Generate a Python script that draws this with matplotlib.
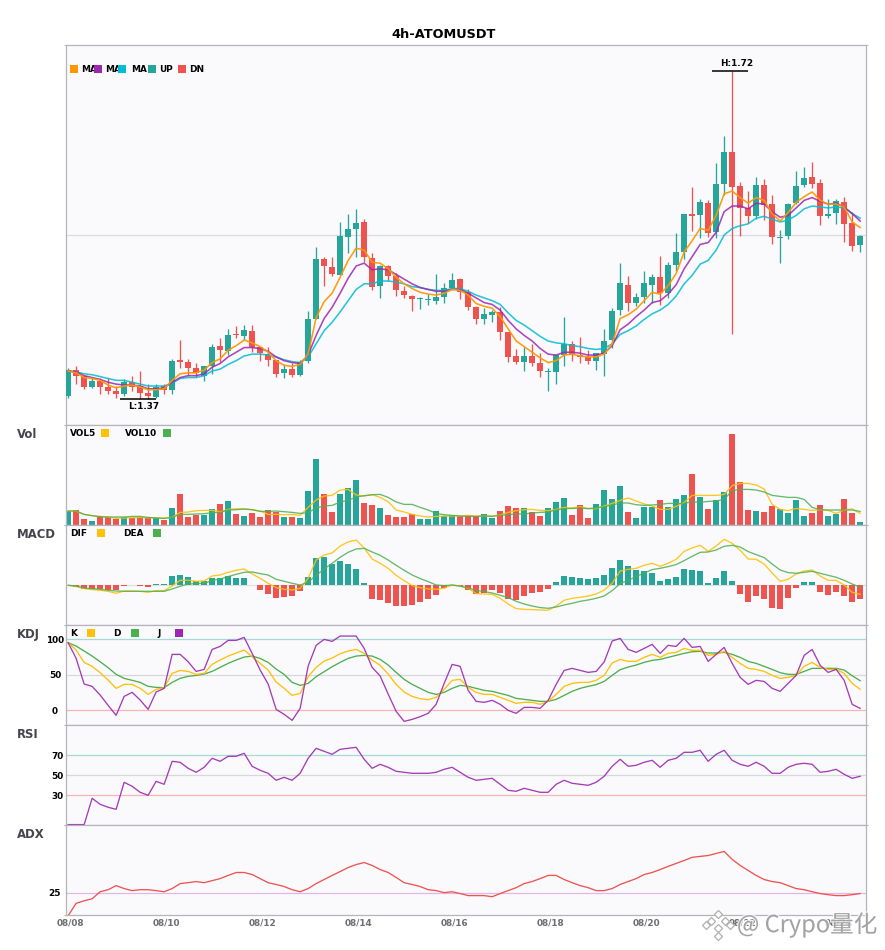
import numpy as np
import matplotlib
matplotlib.use('Agg')
from matplotlib import pyplot as plt
from matplotlib.patches import Rectangle
from matplotlib.lines import Line2D
import matplotlib.patheffects as pe

# 4h candles
open_ = [1.373,1.401,1.395,1.383,1.389,1.383,1.379,1.375,1.388,1.384,1.376,1.372,1.384,1.380,1.412,1.410,1.403,1.395,1.405,1.427,
         1.421,1.439,1.437,1.443,1.426,1.418,1.412,1.398,1.402,1.396,1.411,1.455,1.519,1.511,1.502,1.543,1.552,1.559,1.521,1.491,
         1.512,1.501,1.485,1.480,1.477,1.476,1.475,1.479,1.489,1.498,1.484,1.468,1.455,1.460,1.463,1.442,1.416,1.410,1.416,1.408,
         1.399,1.399,1.417,1.429,1.417,1.415,1.411,1.418,1.433,1.465,1.492,1.473,1.479,1.492,1.500,1.483,1.513,1.527,1.568,1.566,
         1.579,1.548,1.600,1.634,1.597,1.574,1.565,1.598,1.578,1.542,1.544,1.579,1.598,1.607,1.601,1.565,1.569,1.580,1.558,1.534]
close = [1.401,1.395,1.383,1.389,1.383,1.379,1.375,1.388,1.383,1.377,1.373,1.383,1.380,1.411,1.410,1.403,1.398,1.405,1.426,1.422,
         1.438,1.438,1.444,1.426,1.419,1.412,1.397,1.402,1.396,1.410,1.456,1.519,1.512,1.503,1.544,1.551,1.558,1.522,1.490,1.512,
         1.501,1.486,1.481,1.477,1.478,1.477,1.479,1.489,1.497,1.484,1.468,1.456,1.461,1.463,1.442,1.415,1.410,1.416,1.409,1.400,
         1.400,1.417,1.429,1.417,1.415,1.411,1.419,1.432,1.464,1.494,1.473,1.479,1.494,1.500,1.483,1.513,1.527,1.567,1.565,1.580,
         1.547,1.600,1.634,1.596,1.574,1.565,1.598,1.577,1.543,1.543,1.578,1.597,1.606,1.600,1.565,1.568,1.581,1.557,1.533,1.544]
high = [1.403,1.405,1.395,1.394,1.392,1.393,1.384,1.391,1.395,1.400,1.386,1.386,1.386,1.413,1.433,1.413,1.408,1.405,1.429,1.435,
        1.445,1.448,1.449,1.449,1.427,1.426,1.412,1.407,1.408,1.412,1.464,1.532,1.522,1.522,1.559,1.568,1.573,1.562,1.526,1.513,
        1.513,1.505,1.491,1.481,1.479,1.482,1.503,1.494,1.505,1.499,1.488,1.469,1.467,1.465,1.468,1.442,1.423,1.426,1.429,1.419,
        1.403,1.417,1.458,1.432,1.436,1.422,1.419,1.445,1.467,1.515,1.501,1.483,1.507,1.503,1.523,1.516,1.547,1.568,1.596,1.584,
        1.582,1.622,1.651,1.720,1.602,1.592,1.607,1.605,1.588,1.550,1.579,1.613,1.618,1.623,1.605,1.583,1.584,1.586,1.570,1.545]
low = [1.371,1.386,1.381,1.382,1.375,1.375,1.371,1.373,1.379,1.370,1.370,1.371,1.375,1.375,1.403,1.395,1.394,1.389,1.397,1.410,
       1.417,1.435,1.433,1.420,1.411,1.405,1.394,1.393,1.394,1.395,1.408,1.455,1.491,1.501,1.502,1.526,1.522,1.516,1.486,1.478,
       1.496,1.480,1.478,1.464,1.466,1.470,1.471,1.473,1.488,1.477,1.465,1.450,1.450,1.452,1.433,1.410,1.407,1.400,1.405,1.394,
       1.379,1.386,1.405,1.411,1.409,1.407,1.401,1.395,1.424,1.460,1.464,1.469,1.473,1.473,1.470,1.478,1.507,1.520,1.549,1.542,
       1.543,1.542,1.588,1.439,1.544,1.558,1.562,1.561,1.535,1.515,1.541,1.578,1.596,1.595,1.556,1.563,1.557,1.538,1.528,1.527]

ma_fast = [1.400,1.398,1.393,1.392,1.390,1.385,1.382,1.384,1.385,1.383,1.380,1.380,1.381,1.390,1.397,1.398,1.398,1.401,1.409,1.413,
           1.422,1.427,1.433,1.430,1.426,1.420,1.411,1.406,1.405,1.407,1.418,1.457,1.474,1.483,1.500,1.518,1.531,1.529,1.516,1.515,
           1.509,1.500,1.493,1.488,1.484,1.482,1.481,1.483,1.487,1.486,1.481,1.472,1.469,1.467,1.458,1.445,1.432,1.426,1.420,1.414,
           1.409,1.411,1.417,1.418,1.416,1.415,1.415,1.418,1.429,1.456,1.460,1.466,1.475,1.484,1.482,1.491,1.504,1.527,1.539,1.552,
           1.550,1.566,1.589,1.592,1.585,1.579,1.585,1.582,1.568,1.560,1.569,1.580,1.586,1.591,1.582,1.578,1.578,1.575,1.559,1.553]
ma_mid = [1.400,1.399,1.395,1.393,1.391,1.388,1.386,1.385,1.385,1.384,1.381,1.381,1.382,1.388,1.393,1.395,1.395,1.397,1.404,1.408,
          1.415,1.420,1.425,1.425,1.424,1.421,1.415,1.411,1.409,1.408,1.417,1.438,1.456,1.468,1.483,1.499,1.512,1.515,1.508,1.509,
          1.508,1.503,1.498,1.493,1.489,1.487,1.485,1.485,1.487,1.487,1.483,1.478,1.473,1.471,1.465,1.454,1.445,1.438,1.432,1.424,
          1.418,1.417,1.420,1.420,1.419,1.417,1.417,1.419,1.427,1.444,1.450,1.458,1.465,1.473,1.475,1.482,1.492,1.509,1.522,1.535,
          1.537,1.548,1.570,1.576,1.576,1.573,1.579,1.578,1.570,1.564,1.566,1.574,1.582,1.585,1.581,1.578,1.579,1.575,1.568,1.560]
ma_slow = [1.400,1.399,1.397,1.396,1.394,1.392,1.390,1.390,1.388,1.386,1.384,1.384,1.384,1.387,1.392,1.393,1.393,1.395,1.400,1.402,
           1.407,1.411,1.416,1.418,1.418,1.417,1.415,1.412,1.410,1.409,1.415,1.429,1.443,1.452,1.463,1.475,1.487,1.493,1.493,1.496,
           1.496,1.495,1.493,1.490,1.489,1.487,1.486,1.486,1.488,1.488,1.485,1.481,1.478,1.475,1.471,1.462,1.454,1.449,1.443,1.437,
           1.432,1.430,1.429,1.427,1.426,1.424,1.423,1.424,1.429,1.439,1.443,1.448,1.455,1.461,1.465,1.471,1.480,1.493,1.502,1.514,
           1.518,1.529,1.545,1.552,1.555,1.557,1.563,1.565,1.562,1.559,1.561,1.566,1.573,1.576,1.575,1.574,1.575,1.574,1.568,1.563]

volume = [13.7,14.7,5.7,3.7,7.7,7.7,5.7,7.7,6.7,7.7,6.7,6.7,4.7,16.7,30.7,7.7,9.7,9.7,15.7,20.7,
          23.7,10.7,8.7,11.7,7.7,14.7,12.7,7.7,7.7,6.7,33.7,65.7,30.7,12.7,30.7,36.7,44.7,21.7,19.7,16.7,
          9.7,7.7,7.7,10.7,5.7,5.7,13.7,8.7,9.7,8.7,9.7,8.7,10.7,6.7,13.7,18.7,16.7,16.7,12.7,8.7,
          16.7,22.7,26.7,9.7,19.7,6.7,20.7,34.7,25.7,38.7,12.7,6.7,17.7,17.7,24.7,17.7,25.7,29.7,50.7,27.7,
          15.7,24.7,32.7,90.7,42.7,14.7,13.7,12.7,18.7,15.7,11.7,24.7,8.7,11.7,19.7,8.7,10.7,25.7,11.7,2.7]
vol5 = [13.7,13.7,10.3,9,8.3,7.7,6.3,6.7,7,7.3,7,7,6.7,7.3,12.3,12.7,14,14.3,14.3,13,
        15.3,16,15.7,15,13.7,10.3,10.3,10,10.3,9.3,17.3,24.7,28.7,29.3,34.7,35.3,29.7,28.7,30,27.3,
        23,14.7,12.7,10.3,8.7,7.7,8.3,8.7,8.7,8.7,9.3,8.7,8.7,8.7,9.7,12.3,14,15,15.3,14.3,
        14,15.3,17.3,16.7,18,16.3,16,18.7,21.3,24.3,26.7,23.7,20.7,18.7,15.3,15.3,18.3,22.3,29.3,29.3,
        29.3,29.3,30.3,39,41.3,41.3,39.7,35.7,20.3,15.3,14,16.3,15.3,14.3,15,14.3,11.3,14.7,15.7,11.3]
vol10 = [13.7,13.7,10.3,9,8,7.7,7.7,7.7,8.3,8.3,7.3,6.7,6.3,7.3,10.3,10.3,10.7,11,12,12.3,
         14.7,15,15.7,15,13.3,13.3,13.7,13,12.3,11.3,12,16.7,18.7,19.3,22.7,24.3,27.7,29,30,30.3,
         27.3,22.7,20.3,20.3,17.3,14.7,11.3,10,9.3,8.7,8.3,8.3,8.7,8.3,9.3,10,10.7,10.7,11.7,12.3,
         12.7,14.7,16,16.3,16.7,16,16.7,18,19.7,21.7,21.7,20,19.3,19.7,20.3,21.3,21.3,21.3,23,22.3,
         23.3,23.7,25.3,34,35.3,35.3,34.7,32.7,29.3,28.3,27.3,27.3,25.3,17.3,15,14.7,14.7,14.7,14.7,13.3]

# macd values in units of 0.001
macd_hist = [0,-2,-4,-3.7,-4,-5,-5,-0.7,0,-1,-1.7,1.3,1.3,9.3,10.3,8.3,4.3,4.3,7.3,7.3,
             9.3,7.3,7.3,0,-4.7,-8.7,-12.7,-11.7,-10.7,-5.7,8.3,27.3,28.3,21.3,24.3,21.3,16.3,2.3,-13.7,-14.7,
             -17.7,-20.7,-20.7,-19.7,-16.7,-13.7,-9.7,-2.7,0.3,-1,-4.7,-8.7,-7.7,-4.7,-7.7,-13.7,-14.7,-10.7,-7.7,-6.7,
             -3.7,3.3,9.3,8.3,7.3,6.3,7.3,10.3,17.3,25.3,19.3,15.3,14.3,12.3,4.3,6.3,8.3,16.3,15.3,14.3,
             2.3,7.3,14.3,4.3,-8.7,-16.7,-10.7,-13.7,-22.7,-23.7,-12.7,-2.7,3.3,3.3,-6.7,-9.7,-6.7,-10.7,-16.7,-13.7]
dif = [0,-1.3,-3.3,-4.3,-5,-6,-8,-5.7,-5.7,-6,-7,-5.3,-5.3,-0.7,5,5,4,4.3,9.3,10.3,
       13,15,16.3,11.3,7,2,-2.3,-4,-4.7,-3,7,25.3,30.3,32.3,39.3,43.3,45.3,37.3,26.3,22,
       17,10,4.7,-0.3,-2.3,-3.7,-4,-3,0.3,-0.7,-3,-8.3,-8.7,-9,-13,-18.7,-23.3,-24,-24.3,-24.7,
       -25,-20.7,-15,-13,-12,-10.7,-8.7,-4.7,2,14.3,16,17,20,22,19,22,26,34,37.3,40,
       34,39.3,46,42,35,26.3,26,21.3,12.3,4,6,11.3,14.3,15.3,9.3,5,5,0.3,-7,-9]
dea = [0,-0.7,-2.7,-3.3,-4,-5,-5.7,-6,-6,-6,-6,-6,-6,-3.7,-1,1.3,1.7,2,4.7,6.3,
       8.7,11,13,13.3,11.7,10.3,6,4,2,0.3,3,10,16.3,22,28,33,36.3,37,33.3,30,
       25.3,20,15,10.3,6.7,3.7,0.3,-0.3,0.3,-1,-2.7,-5,-6.3,-7.7,-10,-12.3,-16,-18.7,-20.7,-22.3,
       -23,-21.7,-19.7,-18,-16,-14.7,-13,-10.7,-5.3,1.7,5,8.7,12.3,15.7,17,18.7,20.7,24.7,29,33,
       33.3,35.3,39,40,38.3,33.7,30.7,27.7,21.3,15.3,12.7,12,13,14,12,10,8,5,1.3,-2]

k = [95.3,85,67.6,62,53.1,42.7,31,36.6,36.6,31,22.5,29.6,31.9,52.1,56.3,54.9,50.7,52.1,64.8,70.9,
     76.5,80.8,85,75.6,66.2,56.8,39.9,31,21.1,23.9,47.4,60.6,69.5,73.7,79.8,83.6,85.9,80.3,70.9,63.4,
     51.2,36.6,25.8,19.7,16.4,15,18.3,29.6,42.3,43.7,32.4,25.4,22.5,22.5,18.3,14.1,9.9,11.3,11.3,8.5,
     12.7,22.5,33.8,38,39.4,39.4,42.3,49.3,66.7,71.8,69,69,74.7,78.9,74.7,80.3,81.7,87.3,84.5,84.5,
     77.5,78.9,83.1,74.7,66.2,59.2,57.7,54.9,49.3,45.1,46.5,49.3,62,67.6,60.6,57.7,57.7,52.1,38,29.6]
d = [95.3,90.6,83.6,76.5,68.5,60.1,50.7,45.1,42.3,39.4,33.8,32.4,31.9,39.4,45.1,47.9,49.3,51.2,54.9,60.6,
     66.2,70.9,75.1,76.5,73.2,67.6,58.2,50.7,39.4,35.2,38,47.4,54.5,61.5,67.6,73.2,76.5,77.5,76.5,71.8,
     63.9,53.5,43.7,36.6,31,25.4,22.5,25.4,31,35.2,33.8,31,28.2,26.8,23.9,21.1,16.9,15.5,14.1,12.7,
     12.7,15.5,21.1,26.8,31,33.8,36.2,40.8,49.3,57.3,61,63.9,67.6,70.4,71.8,74.7,77.5,80.3,82.6,83.1,
     80.8,80.8,81.7,78.9,74.7,69,66.2,62,57.7,53.1,50.7,50.7,54.9,59.2,59.2,59.2,59.2,56.8,48.8,41.8]
j = [95.3,73.2,37.1,33.8,21.6,7,-7,19.7,25.4,14.6,1.4,25.8,31,78.9,78.9,68.5,54.9,57.7,85.9,90.1,
     98.6,98.6,102.8,80.3,56.8,37.1,1.4,-5.6,-14.1,2.8,62.4,91.6,100,97.2,104.7,104.7,104.7,87.3,60.6,48.4,
     23,-1.4,-15.5,-12.7,-8.9,-4.2,8.5,38,64.8,62,28.2,12.7,11.3,14.1,8.5,0,-4.2,4.2,4.2,2.8,
     14.1,36.6,56.3,59.2,56.3,53.5,54.9,68.1,97.7,101.4,85.9,81.7,87.3,93,80.3,91.6,90.1,101.4,88.7,90.1,
     69,78.9,88.7,66.2,46.5,36.6,42.3,40.8,31,26.8,38,49.3,77.5,85.9,63.4,53.5,57.7,42.3,8.5,2.8]

rsi = [0.7,0.7,0.7,27,21,18,16,43,39,33,30,44,41,64,63,57,53,58,67,64,
       69,69,72,59,55,52,45,48,45,52,67,77,74,71,76,77,78,66,57,61,
       58,54,53,52,52,52,53,56,58,53,48,45,46,47,41,35,34,37,35,33,
       33,41,45,42,41,40,43,49,59,66,59,60,63,65,58,65,67,73,73,75,
       64,71,75,65,61,59,63,59,52,52,58,61,62,61,53,54,56,51,47,49]
adx = [14.8,20.3,21.4,22.3,25.4,26.3,28.1,26.8,25.9,26.3,26.3,25.9,25.4,26.8,29,29.4,29.9,29.4,30.3,31.2,
       32.6,33.9,33.9,33,31.2,29.4,28.6,27.7,26.3,25.4,26.8,29,30.8,32.6,34.3,36.1,37.4,38.3,37,35.2,
       33.9,31.7,29.4,28.6,27.7,26.3,25.9,25,25.4,24.6,23.7,23.7,23.7,23.2,24.6,25.9,27.2,29,29.9,31.2,
       32.6,32.6,30.8,29.4,28.1,27.2,25.9,25.9,26.8,28.6,29.9,31.2,33,33.9,35.2,36.6,37.9,39.2,40.6,41,
       41.4,42.3,43.2,39.7,37,34.8,32.6,30.8,29.9,29.4,28.1,26.8,26.3,25.4,24.6,24.1,23.7,23.7,24.1,24.6]

date_labels = ['08/08','08/10','08/12','08/14','08/16','08/18','08/20','08/22','08/24']
date_idx = [0, 12, 24, 36, 48, 60, 72, 84, 96]

UP = '#26A69A'
DN = '#EF5350'
AMBER = '#FFC107'
GREEN = '#4CAF50'
PURPLE = '#9C27B0'
ORANGE = '#FF9800'
CYAN = '#00BCD4'
PANEL = '#FAFAFD'
EDGE = '#B4B4BC'
FS = 6.4

W, H = 885, 950
fig = plt.figure(figsize=(W / 100, H / 100), dpi=100, facecolor='white')
plt.rcParams['font.family'] = ['DejaVu Sans']

x = np.arange(len(close))
op = np.array(open_)
cl = np.array(close)
candle_col = [UP if c >= o else DN for o, c in zip(open_, close)]

left, right = 65.5, 866.0
edges = [45, 424.7, 524.7, 624.7, 724.7, 824.7, 915.3]
ylims = [(1.3427, 1.7478), (0, 100), (-39.4, 60.6), (-20.2, 120.7), (0.6, 100.6), (15, 55)]
names = [None, 'Vol', 'MACD', 'KDJ', 'RSI', 'ADX']

axes = []
for i in range(6):
    ax = fig.add_axes([left / W, 1 - edges[i + 1] / H, (right - left) / W, (edges[i + 1] - edges[i]) / H])
    ax.set_facecolor(PANEL)
    ax.set_xlim(-0.33, 99.73)
    ax.set_ylim(*ylims[i])
    for s in ax.spines.values():
        s.set_color(EDGE)
        s.set_linewidth(0.9)
    ax.set_xticks([])
    ax.set_yticks([])
    ax.set_yticks(ylims[i], minor=True)
    ax.tick_params(which='minor', length=1.5, width=0.6, color=EDGE, left=True, right=True, labelleft=False)
    if names[i]:
        fig.text(17 / W, 1 - (edges[i] + 10) / H, names[i], fontsize=8.4, fontweight='bold',
                 color='#44444C', va='center', ha='left')
    axes.append(ax)

LW = 0.95
LW_MA = 1.15

# main panel
ax = axes[0]
ax.axhline(1.545, color='#DCDCE0', lw=0.9, zorder=1)
ax.vlines(x, low, high, colors=candle_col, lw=0.95, zorder=2)
ax.bar(x, np.abs(cl - op), bottom=np.minimum(cl, op), width=0.75, color=candle_col, zorder=3)
ax.plot(x, ma_slow, color=CYAN, lw=LW_MA, alpha=0.85, zorder=4)
ax.plot(x, ma_mid, color=PURPLE, lw=LW_MA, alpha=0.85, zorder=4)
ax.plot(x, ma_fast, color=ORANGE, lw=LW_MA, alpha=0.95, zorder=4)
ax.hlines(max(high), 80.5, 85, color='black', lw=1.1, zorder=5)
ax.hlines(min(low), 6.5, 11, color='black', lw=1.1, zorder=5)
ax.annotate('H:%.2f' % max(high), (83.6, max(high)), xytext=(0, 2.2), textcoords='offset points',
            ha='center', va='bottom', fontsize=FS, fontweight='bold')
ax.annotate('L:%.2f' % min(low), (9.4, min(low)), xytext=(0, -2.2), textcoords='offset points',
            ha='center', va='top', fontsize=FS, fontweight='bold')

# volume
ax = axes[1]
ax.bar(x, volume, width=0.75, color=candle_col, zorder=2)
ax.plot(x, vol5, color=AMBER, lw=LW, alpha=0.9, zorder=3)
ax.plot(x, vol10, color=GREEN, lw=LW, alpha=0.85, zorder=3)

# macd
ax = axes[2]
ax.axhline(0, color='#E0E0E4', lw=0.9, zorder=1)
ax.bar(x, macd_hist, width=0.75, color=[UP if v >= 0 else DN for v in macd_hist], zorder=2)
ax.plot(x, dif, color=AMBER, lw=LW, alpha=0.9, zorder=3)
ax.plot(x, dea, color=GREEN, lw=LW, alpha=0.85, zorder=3)

# kdj
ax = axes[3]
ax.axhline(100, color='#A6DAD5', lw=0.9, zorder=1)
ax.axhline(50, color='#D8D8DC', lw=0.9, zorder=1)
ax.axhline(0, color='#F8B4B2', lw=0.9, zorder=1)
ax.plot(x, d, color=GREEN, lw=LW, zorder=3)
ax.plot(x, k, color=AMBER, lw=LW, zorder=3)
ax.plot(x, j, color=PURPLE, lw=LW, alpha=0.9, zorder=3)
ax.set_yticks([0, 50, 100])

# rsi
ax = axes[4]
ax.axhline(70, color='#A6DAD5', lw=0.9, zorder=1)
ax.axhline(50, color='#D8D8DC', lw=0.9, zorder=1)
ax.axhline(30, color='#F8B4B2', lw=0.9, zorder=1)
ax.plot(x, rsi, color=PURPLE, lw=LW, alpha=0.9, zorder=3)
ax.set_yticks([30, 50, 70])

# adx
ax = axes[5]
ax.axhline(25, color='#E1B7EA', lw=0.9, zorder=1)
ax.plot(x, adx, color=DN, lw=LW, zorder=3)
ax.set_yticks([25])
ax.set_xticks(np.array(date_idx) + 0.25)
ax.set_xticklabels(date_labels, fontsize=FS, fontweight='bold', color='#6E6E74')
ax.tick_params(axis='x', length=0, pad=2)

# y labels sit centred on a column left of the axis
for ax, pad in zip(axes[3:], [7.6, 6.1, 7.6]):
    ax.tick_params(axis='y', which='major', length=0, pad=pad, labelsize=FS, labelleft=True)
    for t in ax.get_yticklabels():
        t.set_fontweight('bold')
        t.set_ha('center')

fig.text(444 / W, 1 - 34 / H, '4h-ATOMUSDT', fontsize=9.3, fontweight='bold', ha='center', va='center')


# legend rows, text first so the squares sit on top of it like the original
def legend_item(label, tx, sx, y, color):
    fig.text(tx / W, 1 - y / H, label, fontsize=FS, fontweight='bold', va='center', ha='left', zorder=10)
    fig.add_artist(Rectangle((sx / W, 1 - (y + 4) / H), 8 / W, 8 / H, transform=fig.transFigure,
                             facecolor=color, edgecolor='none', zorder=11))


for item in [('MA', 81, 70, ORANGE), ('MA', 105, 94, PURPLE), ('MA', 131, 118, CYAN),
             ('UP', 159, 148, UP), ('DN', 189, 178, DN)]:
    legend_item(item[0], item[1], item[2], 69, item[3])
for item in [('VOL5', 70, 101, AMBER), ('VOL10', 125, 163, GREEN)]:
    legend_item(item[0], item[1], item[2], 433, item[3])
for item in [('DIF', 70, 97, AMBER), ('DEA', 123, 153, GREEN)]:
    legend_item(item[0], item[1], item[2], 533, item[3])
for item in [('K', 70, 87, AMBER), ('D', 113, 131, GREEN), ('J', 157, 175, PURPLE)]:
    legend_item(item[0], item[1], item[2], 633, item[3])

# watermark
halo = [pe.withStroke(linewidth=2, foreground=(1, 1, 1, 0.7))]
fig.text(737 / W, 1 - 925 / H, '@ Crypo量化', fontsize=17, color='#8C8C8C', alpha=0.75, va='center', ha='left',
         family=['Noto Sans CJK SC', 'DejaVu Sans'], path_effects=halo, zorder=12)
logo_x = [718, 711, 725, 718, 706, 730, 718]
logo_y = [914, 921, 921, 928, 925, 925, 936]
fig.add_artist(Line2D([v / W for v in logo_x], [1 - v / H for v in logo_y], transform=fig.transFigure,
                      linestyle='none', marker='D', markersize=4.5, markerfacecolor='white',
                      markeredgecolor='#B0B0B0', markeredgewidth=0.9, zorder=12))

fig.savefig('out.png', dpi=100)
